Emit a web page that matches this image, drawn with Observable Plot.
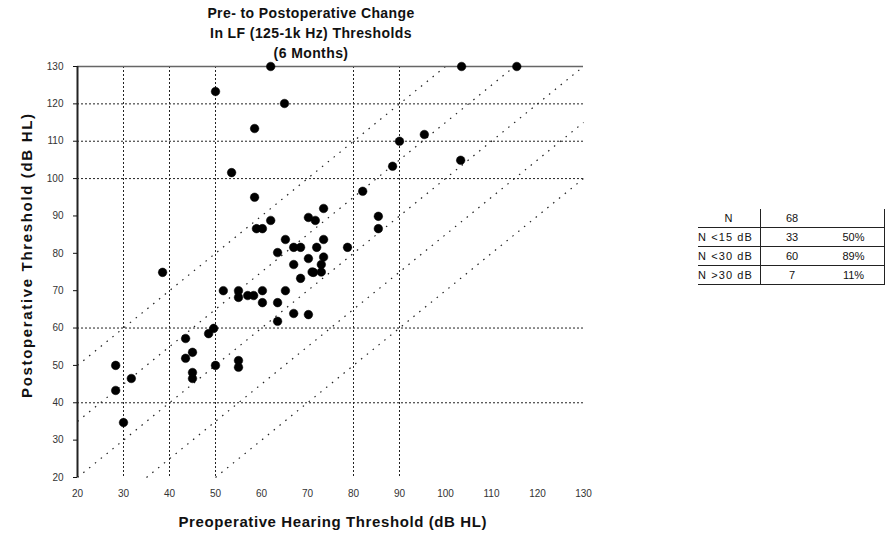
<!DOCTYPE html>
<html><head><meta charset="utf-8">
<script src="https://cdn.jsdelivr.net/npm/d3@7"></script>
<script src="https://cdn.jsdelivr.net/npm/@observablehq/plot@0.6"></script>
<style>
body{margin:0;background:#fff;font-family:"Liberation Sans",Arial,sans-serif;}
#wrap{position:relative;width:896px;height:536px;overflow:hidden;}
#title{position:absolute;left:161px;width:300px;top:3px;text-align:center;font-weight:bold;font-size:14px;letter-spacing:0.4px;line-height:20px;color:#111;}
#chart{position:absolute;left:0;top:0;}
#tbl{position:absolute;left:698px;top:209px;border-collapse:collapse;font-size:11px;color:#111;}
#tbl td{height:18px;padding:0;border-bottom:1.5px solid #222;line-height:18px;}
#tbl td.c1{width:62px;border-right:1.5px solid #222;letter-spacing:1.1px;white-space:nowrap;}
#tbl td.c2{width:62px;text-align:center;}
#tbl td.c3{width:61px;text-align:center;border-right:1.5px solid #222;}
#tbl tr.h td.c1{text-align:center;}
</style></head><body>
<div id="wrap"><div id="chart"></div><div id="title"></div><table id="tbl"></table></div>
<script>
const titleLines = ["Pre- to Postoperative Change", "In LF (125-1k Hz) Thresholds", "(6 Months)"];
const xTitle = "Preoperative Hearing Threshold (dB HL)";
const yTitle = "Postoperative Threshold (dB HL)";
const xDomain = [20, 130];
const yDomain = [20, 130];
const xTicks = [20, 30, 40, 50, 60, 70, 80, 90, 100, 110, 120, 130];
const yTicks = [20, 30, 40, 50, 60, 70, 80, 90, 100, 110, 120, 130];
const xGrid = [30, 40, 50, 80, 90];
const yGrid = [120, 110, 100, 60, 40];
const offsets = [-30, -15, 0, 15, 30];
const preop = [62,103.5,115.5,50,65,58.5,90,95.4,88.5,53.5,82,58.5,73.5,70.2,71.7,85.4,85.4,62,58.9,60.2,65.2,73.5,67,68.5,72,78.7,63.5,67,70.2,38.5,68.5,71.3,71,73,73,73.5,51.7,55,55,57,58.3,60.2,60.2,63.5,65.2,67,70.2,63.5,49.6,48.5,43.5,45,43.5,45,45,50,55,55,28.3,31.7,28.3,30,103.3];
const postop = [130,130,130,123.3,120.1,113.4,110,111.8,103.3,101.6,96.6,95,92,89.6,88.8,89.9,86.6,88.8,86.6,86.6,83.7,83.7,81.6,81.6,81.6,81.6,80.2,77,78.6,74.9,73.3,74.9,75,75,77,79,70,70,68.2,68.7,68.7,70,66.8,66.8,70,63.9,63.6,61.8,59.9,58.5,57.2,53.5,51.9,48.1,46.5,50,51.3,49.5,50,46.5,43.3,34.7,104.9];
const tableLabels = ["N", "N <15 dB", "N <30 dB", "N >30 dB"];
const tableCounts = ["68", "33", "60", "7"];
const tablePercents = ["", "50%", "89%", "11%"];

const points = preop.map((p, i) => ({pre: p, post: postop[i]}));
const diag = offsets.map(o => {
  const x1 = Math.max(xDomain[0], yDomain[0] - o);
  const x2 = Math.min(xDomain[1], yDomain[1] - o);
  return {x1, y1: x1 + o, x2, y2: x2 + o};
});

const chart = Plot.plot({
  width: 896, height: 536,
  marginLeft: 77, marginRight: 313, marginTop: 66, marginBottom: 59,
  x: {domain: xDomain},
  y: {domain: yDomain},
  style: {fontFamily: "'Liberation Sans', Arial, sans-serif", background: "#fff", color: "#111"},
  marks: [
    Plot.ruleX(xGrid, {stroke: "#222", strokeDasharray: "2,2", strokeWidth: 1}),
    Plot.ruleY(yGrid, {stroke: "#222", strokeDasharray: "2,2", strokeWidth: 1}),
    Plot.link(diag, {x1: "x1", y1: "y1", x2: "x2", y2: "y2", stroke: "#222", strokeWidth: 1.2, strokeDasharray: "1.5,6"}),
    Plot.ruleY([yDomain[1]], {stroke: "#666", strokeWidth: 1.5}),
    Plot.ruleX([xDomain[0]], {stroke: "#222", strokeWidth: 2}),
    Plot.axisX(xTicks, {tickSize: 0, tickPadding: 12, fontSize: 10, label: null, fill: "#333"}),
    Plot.axisY(yTicks, {tickSize: 4, tickPadding: 10, fontSize: 10, label: null, fill: "#333"}),
    Plot.dot(points, {x: "pre", y: "post", r: 4.3, fill: "#000", stroke: "#000", strokeWidth: 0.5}),
    Plot.text([xTitle], {frameAnchor: "bottom", dy: 45, dx: 2, text: d => d, fontSize: 15, fontWeight: "bold", lineAnchor: "middle", textAnchor: "middle", className: "xtitle"}),
    Plot.text([yTitle], {frameAnchor: "left", dx: -50, dy: -16, rotate: -90, text: d => d, fontSize: 15, fontWeight: "bold", lineAnchor: "middle", textAnchor: "middle", className: "ytitle"})
  ]
});
document.getElementById("chart").appendChild(chart);
d3.select(chart).selectAll(".xtitle text").attr("textLength", 308).attr("lengthAdjust", "spacing");
d3.select(chart).selectAll(".ytitle text").attr("textLength", 284).attr("lengthAdjust", "spacing");

d3.select("#title").selectAll("div").data(titleLines).join("div").text(d => d);

const rows = tableLabels.map((l, i) => [l, tableCounts[i], tablePercents[i]]);
d3.select("#tbl").selectAll("tr").data(rows).join("tr")
  .attr("class", (d, i) => i === 0 ? "h" : null)
  .selectAll("td").data(d => d).join("td")
  .attr("class", (d, i) => "c" + (i + 1))
  .text(d => d);
</script>
</body></html>
